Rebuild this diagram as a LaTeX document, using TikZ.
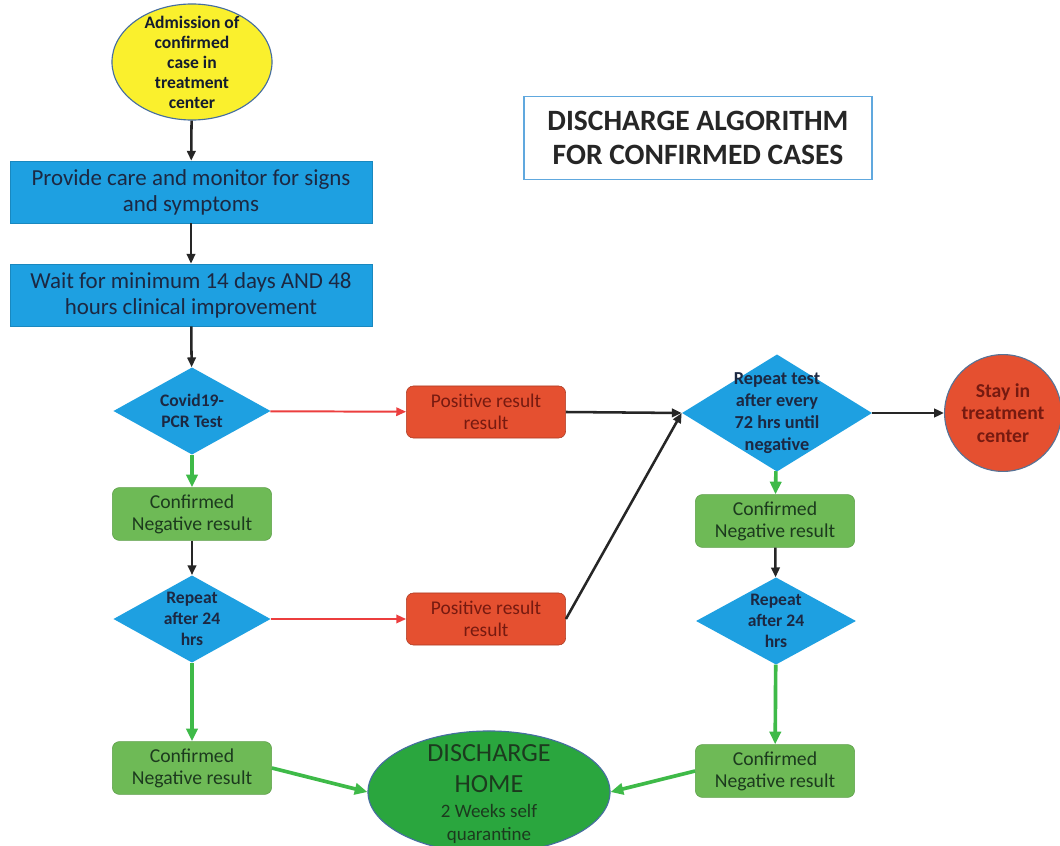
\documentclass[tikz,border=0pt]{standalone}
\usepackage{fontspec}
\setmainfont{Carlito}
\usetikzlibrary{shapes.geometric,arrows.meta}

\definecolor{boxblue}{RGB}{30,160,225}
\definecolor{navytext}{RGB}{28,40,66}
\definecolor{boxred}{RGB}{229,80,48}
\definecolor{redtext}{RGB}{118,26,16}
\definecolor{boxgreen}{RGB}{110,186,86}
\definecolor{greentext}{RGB}{28,58,30}
\definecolor{homegreen}{RGB}{42,166,62}
\definecolor{admyellow}{RGB}{250,240,45}
\definecolor{rimblue}{RGB}{70,110,160}
\definecolor{arrgreen}{RGB}{62,186,72}
\definecolor{arrred}{RGB}{236,62,62}
\definecolor{titleblue}{RGB}{96,168,222}

\begin{document}
\begin{tikzpicture}[x=0.025cm,y=-0.025cm,
    bluebox/.style={rectangle, fill=boxblue, draw=boxblue!85!black, minimum width=9.05cm, minimum height=1.55cm,
        align=center, text=navytext, font=\fontsize{16.3}{18.5}\selectfont},
    redbox/.style={rectangle, rounded corners=5pt, fill=boxred, draw=boxred!75!black, minimum width=3.98cm, minimum height=1.3cm,
        align=center, text=redtext, font=\fontsize{13.8}{15.5}\selectfont},
    greenbox/.style={rectangle, rounded corners=5pt, fill=boxgreen, draw=boxgreen!85!black, minimum width=3.98cm, minimum height=1.32cm,
        align=center, text=greentext, font=\fontsize{14}{15.5}\selectfont},
    dia/.style={diamond, fill=boxblue, inner sep=0pt},
    dtxt/.style={align=center, text=navytext, font=\bfseries\fontsize{12.5}{15}\selectfont},
    blk/.style={-{Triangle[length=7pt,width=6pt]}, line width=1.8pt, black!85},
    grn/.style={-{Triangle[length=9pt,width=8pt]}, line width=2.6pt, arrgreen},
    rd/.style={-{Triangle[length=7pt,width=6pt]}, line width=1.4pt, arrred}]

\path[use as bounding box, fill=white] (0,0) rectangle (1060,846);

% left column
\node[ellipse, fill=admyellow, draw=rimblue, line width=0.8pt, minimum width=4cm, minimum height=2.9cm,
    label={[align=center, text=navytext!70!black, font=\bfseries\fontsize{12.5}{14.2}\selectfont]center:{Admission of\\confirmed\\case in\\treatment\\center}}] (adm) at (192,62) {};
\node[bluebox] (care) at (191,192) {Provide care and monitor for signs\\and symptoms};
\node[bluebox] (wait) at (191,295) {Wait for minimum 14 days AND 48\\hours clinical improvement};
\node[dia, minimum width=3.93cm, minimum height=2.18cm, label={[dtxt]center:{Covid19-\\PCR Test}}] (pcr) at (192,411) {};
\node[greenbox] (negA) at (192,514) {Confirmed\\Negative result};
\node[dia, minimum width=3.93cm, minimum height=2.18cm, label={[dtxt]center:{Repeat\\after 24\\hrs}}] (rptA) at (192,619) {};
\node[greenbox] (negC) at (192,768) {Confirmed\\Negative result};

% middle
\node[redbox] (posA) at (486,412) {Positive result\\result};
\node[redbox] (posB) at (486,619) {Positive result\\result};
\node[ellipse, fill=homegreen, draw=rimblue, line width=0.8pt, minimum width=6.05cm, minimum height=3.05cm,
    label={[align=center, text=greentext, font=\fontsize{18.6}{22}\selectfont, yshift=-1.5pt]center:{DISCHARGE\\HOME\\[-4.2pt]{\fontsize{13.5}{16}\selectfont 2 Weeks self}\\[-5.8pt]{\fontsize{13.5}{16}\selectfont quarantine}}}] (home) at (489,792) {};

% right column
\node[rectangle, draw=titleblue, line width=1pt, fill=white, minimum width=8.7cm, minimum height=2.08cm,
    align=center, text=black!85, font=\bfseries\fontsize{21}{24}\selectfont] (title) at (698,138) {DISCHARGE ALGORITHM\\FOR CONFIRMED CASES};
\node[dia, minimum width=4.75cm, minimum height=2.93cm, label={[dtxt, font=\bfseries\fontsize{13}{15.5}\selectfont]center:{Repeat test\\after every\\72 hrs until\\negative}}] (rptT) at (777,413) {};
\node[circle, fill=boxred, draw=rimblue!70!gray, line width=0.8pt, minimum size=2.92cm,
    label={[align=center, text=redtext, font=\bfseries\fontsize{14}{15.8}\selectfont]center:{Stay in\\treatment\\center}}] (stay) at (1003,413) {};
\node[greenbox] (negB) at (775,521) {Confirmed\\Negative result};
\node[dia, minimum width=4cm, minimum height=2.18cm, label={[dtxt]center:{Repeat\\after 24\\hrs}}] (rptB) at (776,621) {};
\node[greenbox] (negD) at (775,771) {Confirmed\\Negative result};

% connectors
\draw[blk] (adm) -- (care);
\draw[blk] (care) -- (wait);
\draw[blk] (wait) -- (pcr);
\draw[rd] (pcr) -- (posA);
\draw[grn] (pcr) -- (negA);
\draw[blk] (negA) -- (rptA);
\draw[rd] (rptA) -- (posB);
\draw[grn] (rptA) -- (negC);
\draw[blk] (posA.east) -- (rptT.west);
\draw[blk] (posB.east) -- (rptT.west);
\draw[blk] (rptT) -- (stay);
\draw[grn] (rptT) -- (negB);
\draw[blk] (negB) -- (rptB);
\draw[grn] (rptB) -- (negD);
\draw[grn] (negC.east) -- (home.west);
\draw[grn] (negD.west) -- (home.east);
\end{tikzpicture}
\end{document}
